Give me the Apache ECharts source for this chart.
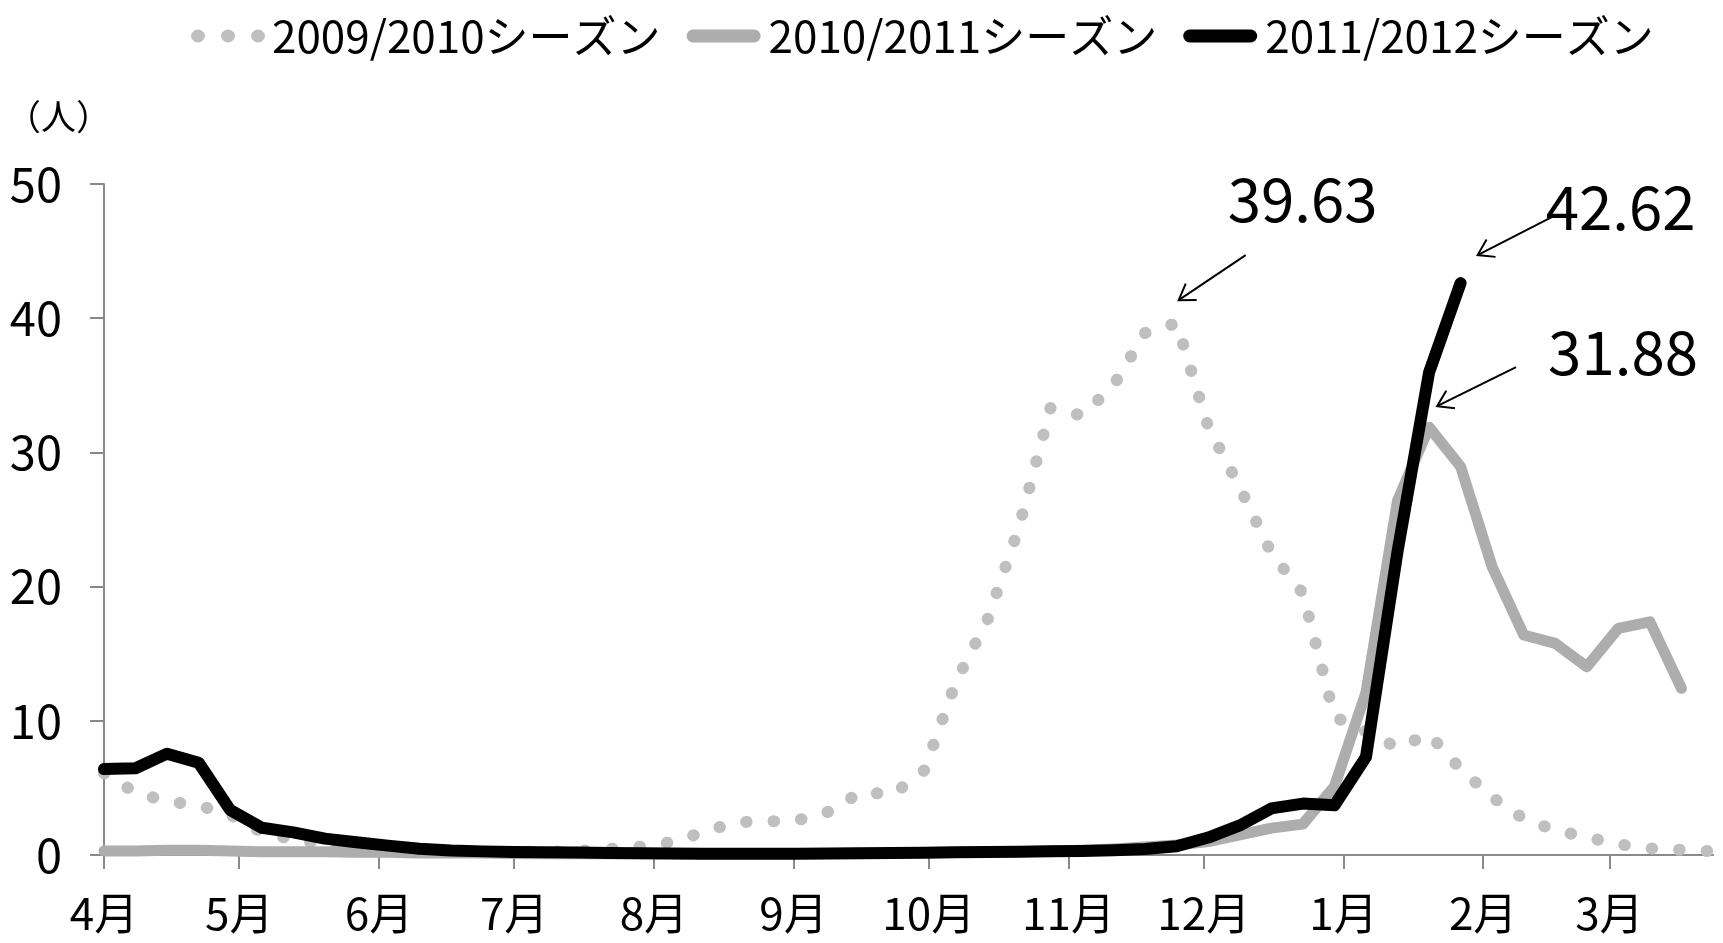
<!DOCTYPE html>
<html><head><meta charset="utf-8">
<script src="https://cdn.jsdelivr.net/npm/echarts@6/dist/echarts.min.js"></script>
<style>html,body{margin:0;padding:0;background:#fff}#c{width:1723px;height:943px}</style>
</head><body><div id="c"></div>
<script>
// ---- data ----
const seriesNames = ['2009/2010シーズン', '2010/2011シーズン', '2011/2012シーズン'];
const monthLabels = ['4月','5月','6月','7月','8月','9月','10月','11月','12月','1月','2月','3月'];
const monthStartDays = [0,30,61,91,122,153,183,214,244,275,306,334];
const weekStepDays = 7;
const axisMaxDays = 357;
const yMin = 0, yMax = 50, yStep = 10;
const yUnitLabel = '（人）';

const season0910 = [6.1,4.65,4.0,3.7,3.0,1.7,1.15,0.8,0.55,0.4,0.3,0.25,0.25,0.25,0.25,0.3,
  0.45,0.62,0.97,1.69,2.45,2.5,2.6,3.25,4.7,4.5,6.3,12.9,17.5,24.4,33.3,32.75,35.0,38.9,39.63,
  31.9,27.4,22.5,19.5,10.3,9.2,8.0,9.0,6.4,4.3,2.7,1.85,1.33,0.8,0.5,0.38,0.28];
const season1011 = [0.3,0.3,0.35,0.35,0.3,0.25,0.25,0.25,0.2,0.2,0.15,0.15,0.15,0.12,0.1,0.1,
  0.1,0.1,0.1,0.1,0.1,0.1,0.12,0.12,0.15,0.15,0.18,0.2,0.22,0.25,0.3,0.35,0.45,0.6,0.75,
  1.0,1.5,2.0,2.3,5.1,12.1,26.4,31.88,28.94,21.48,16.39,15.77,14.03,16.89,17.38,12.42];
const season1112 = [6.4,6.46,7.55,6.88,3.35,2.03,1.69,1.22,0.95,0.7,0.47,0.33,0.27,0.22,0.2,
  0.18,0.15,0.13,0.12,0.1,0.1,0.1,0.1,0.12,0.13,0.15,0.17,0.2,0.22,0.25,0.28,0.3,0.35,0.45,
  0.65,1.3,2.2,3.47,3.83,3.7,7.3,22.6,35.96,42.62];

const FONT = "'Noto Sans CJK JP', 'Noto Sans', sans-serif";
const axisGray = '#898989';
const colors = ['#BFBFBF', '#ADADAD', '#000000'];
const seasons = [season0910, season1011, season1112];

const toPairs = arr => arr.map((v, i) => [i * weekStepDays, v]);

const dotsIcon = 'path://M0,6.5A6.5,6.5 0 1,0 13,6.5A6.5,6.5 0 1,0 0,6.5Z' +
  'M28,6.5A6.5,6.5 0 1,0 41,6.5A6.5,6.5 0 1,0 28,6.5Z' +
  'M56,6.5A6.5,6.5 0 1,0 69,6.5A6.5,6.5 0 1,0 56,6.5Z';
const barIcon = 'path://M6.5,0L67.5,0A6.5,6.5 0 0,1 67.5,13L6.5,13A6.5,6.5 0 0,1 6.5,0Z';

const chart = echarts.init(document.getElementById('c'), null, {renderer: 'canvas'});

const lineStyles = [
  {color: colors[0], width: 12, type: [0.5, 27], cap: 'round', join: 'round'},
  {color: colors[1], width: 11, type: 'solid', cap: 'round', join: 'round'},
  {color: colors[2], width: 12, type: 'solid', cap: 'round', join: 'round'}
];

chart.setOption({
  animation: false,
  backgroundColor: '#fff',
  grid: {left: 104, right: 10, top: 184, bottom: 88, containLabel: false},
  legend: {
    top: 9, left: 186, itemWidth: 74, itemHeight: 13, itemGap: 26,
    symbolKeepAspect: false,
    textStyle: {fontSize: 44, fontFamily: FONT, color: '#000', padding: [0, 0, 0, 3]},
    data: [
      {name: seriesNames[0], icon: dotsIcon, textStyle: {padding: [0, 0, 0, 2]}},
      {name: seriesNames[1], icon: barIcon},
      {name: seriesNames[2], icon: barIcon}
    ],
    selectedMode: false
  },
  xAxis: {
    type: 'value', min: 0, max: axisMaxDays,
    splitLine: {show: false},
    axisLine: {show: true, onZero: false, lineStyle: {color: axisGray, width: 2}},
    axisTick: {show: true, length: 14, lineStyle: {color: axisGray, width: 2}, customValues: monthStartDays},
    axisLabel: {
      customValues: monthStartDays,
      formatter: v => monthLabels[monthStartDays.indexOf(v)] || '',
      fontSize: 44, fontFamily: FONT, color: '#000', margin: 36
    }
  },
  yAxis: {
    type: 'value', min: yMin, max: yMax, interval: yStep,
    splitLine: {show: false},
    axisLine: {show: true, lineStyle: {color: axisGray, width: 2}},
    axisTick: {show: true, length: 14, lineStyle: {color: axisGray, width: 2}},
    axisLabel: {fontSize: 47, fontFamily: FONT, color: '#000', margin: 42}
  },
  series: seasons.map((s, k) => ({
    name: seriesNames[k], type: 'line', data: toPairs(s),
    showSymbol: false, symbol: 'none', silent: true, z: 2 + k,
    itemStyle: {color: colors[k]},
    lineStyle: lineStyles[k]
  }))
});

// ---- peak annotations anchored to the data ----
const annot = [
  {k: 0, label: [126, -124], tail: [69, -68], tip: [2, -23]},
  {k: 1, label: [194, -75], tail: [87, -60], tip: [8, -21]},
  {k: 2, label: [160, -76], tail: [95, -68], tip: [17, -28]}
];
const elements = [];
annot.forEach(a => {
  const s = seasons[a.k];
  let mi = 0;
  s.forEach((v, i) => { if (v > s[mi]) mi = i; });
  const p = chart.convertToPixel({seriesIndex: a.k}, [mi * weekStepDays, s[mi]]);
  const tip = [p[0] + a.tip[0], p[1] + a.tip[1]];
  const tail = [p[0] + a.tail[0], p[1] + a.tail[1]];
  const dx = tail[0] - tip[0], dy = tail[1] - tip[1];
  const len = Math.hypot(dx, dy), ux = dx / len, uy = dy / len;
  const L = 18, th = 33 * Math.PI / 180;
  const rot = (t) => [tip[0] + L * (ux * Math.cos(t) - uy * Math.sin(t)), tip[1] + L * (ux * Math.sin(t) + uy * Math.cos(t))];
  elements.push({type: 'polyline', silent: true, z: 10, shape: {points: [tail, tip]}, style: {stroke: '#000', lineWidth: 2, fill: null}});
  elements.push({type: 'polyline', silent: true, z: 10, shape: {points: [rot(th), tip, rot(-th)]}, style: {stroke: '#000', lineWidth: 2, fill: null}});
  elements.push({type: 'text', silent: true, z: 10, x: p[0] + a.label[0], y: p[1] + a.label[1],
    style: {text: s[mi].toFixed(2), fontSize: 60, fontFamily: FONT, fill: '#000',
      align: 'center', verticalAlign: 'middle', textAlign: 'center', textVerticalAlign: 'middle'}});
});
elements.push({type: 'text', silent: true, x: 6, y: 117,
  style: {text: yUnitLabel, fontSize: 35, fontFamily: FONT, fill: '#000',
    align: 'left', verticalAlign: 'middle', textAlign: 'left', textVerticalAlign: 'middle'}});
chart.setOption({graphic: {elements}});
</script>
</body></html>
